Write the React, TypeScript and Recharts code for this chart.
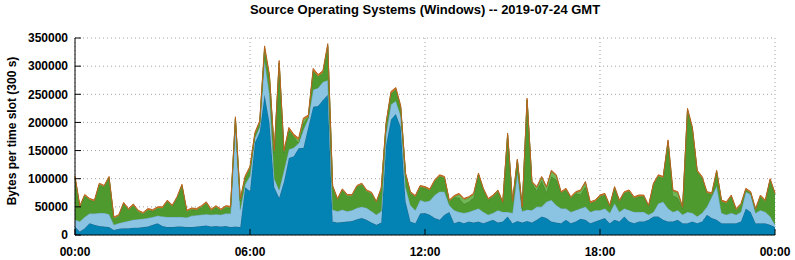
import { AreaChart, Area, XAxis, YAxis, CartesianGrid } from "recharts";

const FONT = '"Liberation Sans", Arial, sans-serif';
const K = 1000; // readings below are in thousands of bytes

const TIME_TICKS = [0, 360, 720, 1080, 1440];
const TIME_LABELS = ["00:00", "06:00", "12:00", "18:00", "00:00"];
const Y_TICKS = [0, 50000, 100000, 150000, 200000, 250000, 300000, 350000];
const SLOT_MIN = 10;

// top of the whole stack, one reading per 10 min
const TOTAL = [
  105, 52, 72, 65, 62, 92, 88, 104, 32, 36, 58, 47,
  55, 44, 40, 47, 45, 50, 50, 62, 53, 68, 90, 44,
  48, 47, 52, 59, 46, 52, 46, 52, 51, 210, 64, 105,
  122, 182, 203, 336, 285, 150, 310, 150, 191, 179, 172, 208,
  213, 296, 285, 292, 340, 88, 65, 82, 72, 72, 88, 92,
  80, 76, 60, 84, 200, 255, 262, 230, 110, 77, 70, 88,
  86, 82, 98, 107, 104, 62, 70, 74, 65, 68, 74, 110,
  83, 65, 71, 80, 59, 181, 60, 135, 50, 243, 95, 86,
  104, 86, 115, 107, 77, 83, 68, 77, 80, 95, 59, 62,
  71, 74, 53, 86, 62, 77, 80, 68, 71, 71, 53, 92,
  107, 104, 169, 80, 77, 50, 225, 192, 115, 104, 77, 75,
  115, 62, 59, 71, 47, 56, 83, 77, 47, 71, 62, 100,
  75,
];

// dark blue (bottom layer)
const WIN_A = [
  15, 6, 12, 21, 18, 16, 15, 14, 9, 11, 12, 12,
  13, 13, 14, 15, 18, 21, 16, 14, 14, 15, 15, 14,
  14, 15, 16, 17, 15, 16, 15, 16, 14, 15, 14, 85,
  78, 164, 183, 249, 200, 85, 66, 95, 137, 140, 154, 155,
  192, 228, 229, 240, 249, 24, 22, 23, 24, 25, 28, 30,
  27, 22, 18, 22, 160, 205, 215, 192, 60, 24, 21, 38,
  39, 36, 30, 27, 36, 41, 21, 24, 21, 24, 22, 24,
  21, 24, 27, 22, 24, 33, 21, 25, 22, 25, 22, 27,
  33, 30, 24, 22, 21, 27, 21, 24, 29, 27, 21, 24,
  27, 30, 21, 27, 24, 33, 24, 21, 24, 24, 27, 33,
  33, 27, 24, 24, 27, 21, 21, 24, 21, 24, 36, 30,
  27, 21, 21, 21, 21, 24, 47, 41, 21, 21, 21, 18,
  14,
];

// top of the light blue layer
const WIN_B_TOP = [
  27, 24, 32, 38, 38, 39, 39, 37, 18, 21, 23, 25,
  27, 28, 29, 30, 32, 34, 33, 32, 32, 32, 32, 31,
  34, 35, 36, 37, 36, 37, 36, 38, 38, 192, 45, 90,
  105, 172, 192, 311, 250, 100, 80, 115, 152, 155, 163, 187,
  207, 258, 261, 272, 275, 45, 42, 45, 42, 44, 48, 50,
  48, 42, 36, 42, 180, 232, 238, 212, 85, 53, 44, 62,
  59, 61, 71, 77, 77, 53, 44, 41, 39, 41, 44, 47,
  41, 36, 39, 44, 41, 41, 39, 110, 42, 45, 44, 50,
  50, 59, 62, 53, 47, 47, 41, 44, 47, 50, 41, 44,
  44, 47, 39, 56, 41, 47, 44, 41, 41, 41, 36, 41,
  56, 59, 47, 41, 44, 36, 41, 39, 33, 39, 50, 68,
  87, 39, 36, 39, 36, 41, 77, 72, 39, 44, 41, 33,
  18,
];

// light green layer
const WIN_D = [
  1, 1, 1, 1, 1, 1, 1, 1, 1, 1, 1, 1,
  1, 1, 1, 1, 1, 1, 1, 1, 1, 1, 1, 1,
  1, 1, 1, 1, 1, 1, 1, 1, 1, 1, 1, 1,
  1, 1, 1, 1, 1, 1, 1, 1, 1, 1, 5, 6,
  1, 1, 1, 1, 1, 1, 1, 1, 1, 1, 1, 1,
  1, 1, 1, 1, 1, 1, 1, 1, 1, 1, 1, 1,
  1, 1, 1, 1, 1, 1, 1, 6, 8, 7, 6, 1,
  1, 1, 1, 1, 1, 1, 1, 1, 1, 1, 1, 5,
  6, 8, 9, 7, 1, 1, 1, 1, 6, 7, 1, 1,
  1, 1, 1, 1, 1, 1, 1, 1, 1, 1, 1, 1,
  1, 1, 1, 8, 9, 1, 1, 1, 1, 1, 1, 1,
  1, 1, 1, 1, 1, 1, 1, 1, 1, 1, 1, 1,
  1,
];

// thin orange layer on top
const WIN_E = [
  3, 2, 2, 2, 2, 2, 2, 2, 2, 2, 2, 2,
  2, 2, 2, 2, 2, 2, 2, 2, 2, 2, 2, 2,
  2, 2, 2, 2, 2, 2, 2, 2, 2, 3, 2, 3,
  3, 3, 3, 5, 4, 3, 4, 3, 3, 3, 3, 3,
  3, 4, 3, 3, 4, 2, 2, 2, 2, 2, 2, 2,
  2, 2, 2, 2, 3, 3, 3, 3, 2, 2, 2, 2,
  2, 2, 2, 2, 2, 2, 2, 2, 2, 2, 2, 2,
  2, 2, 2, 2, 2, 3, 2, 2, 2, 3, 2, 2,
  2, 2, 2, 2, 2, 2, 2, 2, 2, 2, 2, 2,
  2, 2, 2, 2, 2, 2, 2, 2, 2, 2, 2, 2,
  2, 2, 3, 2, 2, 2, 3, 3, 2, 2, 2, 2,
  2, 2, 2, 2, 2, 2, 2, 2, 2, 2, 2, 2,
  2,
];

const SERIES = [
  { key: "a", fill: "#0382b4", stroke: "#23698c" },
  { key: "b", fill: "#8bc3e3", stroke: "#6ea7c6" },
  { key: "c", fill: "#4f9a2e", stroke: "#3e7d25" },
  { key: "d", fill: "#70b755", stroke: "#5a9a40" },
  { key: "e", fill: "#d4701f", stroke: "#b8621c" },
];

const rows = TOTAL.map((tot, i) => ({
  t: i * SLOT_MIN,
  a: WIN_A[i] * K,
  b: (WIN_B_TOP[i] - WIN_A[i]) * K,
  c: (tot - WIN_B_TOP[i] - WIN_D[i] - WIN_E[i]) * K,
  d: WIN_D[i] * K,
  e: WIN_E[i] * K,
}));

const tickStyle = { fill: "#000", fontSize: 12, fontWeight: "bold" as const };

export default function App() {
  return (
    <div style={{ position: "absolute", left: 0, top: 0, width: 795, height: 260, background: "#fff", fontFamily: FONT }}>
      <div style={{ position: "absolute", left: 75, width: 700, top: 2, textAlign: "center", fontSize: 13, fontWeight: "bold", lineHeight: "16px" }}>
        Source Operating Systems (Windows) -- 2019-07-24 GMT
      </div>
      <div style={{ position: "absolute", left: 12, top: 131, transform: "translate(-50%, -50%) rotate(-90deg)", whiteSpace: "nowrap", fontSize: 12, fontWeight: "bold" }}>
        Bytes per time slot (300 s)
      </div>
      <AreaChart width={795} height={260} data={rows} margin={{ top: 38, right: 20, bottom: 0, left: 0 }}>
        <CartesianGrid stroke="#a0a0a0" strokeDasharray="1 3" />
        <XAxis
          dataKey="t"
          type="number"
          domain={[0, 1440]}
          ticks={TIME_TICKS}
          tickFormatter={(v) => TIME_LABELS[TIME_TICKS.indexOf(v)]}
          height={25}
          tickSize={-6}
          tickMargin={18}
          axisLine={{ stroke: "#000" }}
          tickLine={{ stroke: "#000" }}
          tick={tickStyle}
          interval={0}
        />
        <XAxis
          xAxisId="top"
          orientation="top"
          type="number"
          domain={[0, 1440]}
          ticks={TIME_TICKS}
          height={0}
          tickSize={-6}
          tick={false}
          axisLine={{ stroke: "#000" }}
          tickLine={{ stroke: "#000" }}
        />
        <YAxis
          type="number"
          domain={[0, 350000]}
          ticks={Y_TICKS}
          width={75}
          tickSize={-6}
          tickMargin={13}
          axisLine={{ stroke: "#000" }}
          tickLine={{ stroke: "#000" }}
          tick={tickStyle}
          interval={0}
        />
        <YAxis
          yAxisId="right"
          orientation="right"
          type="number"
          domain={[0, 350000]}
          ticks={Y_TICKS}
          width={0}
          tickSize={-6}
          tick={false}
          axisLine={{ stroke: "#000" }}
          tickLine={{ stroke: "#000" }}
        />
        {SERIES.map((s) => (
          <Area
            key={s.key}
            dataKey={s.key}
            stackId="os"
            type="linear"
            fill={s.fill}
            fillOpacity={1}
            stroke={s.stroke}
            strokeWidth={1}
            dot={false}
            activeDot={false}
            isAnimationActive={false}
          />
        ))}
      </AreaChart>
    </div>
  );
}
